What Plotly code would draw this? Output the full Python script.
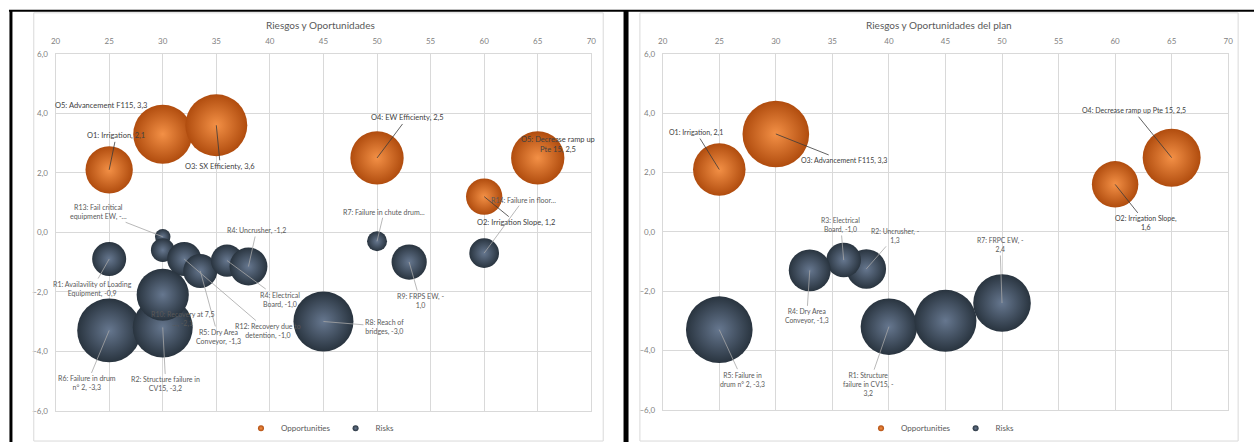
import plotly.graph_objects as go

W, H = 1259, 447

# ---------------- data: left chart "Riesgos y Oportunidades" ----------------
L_opp_labels = ["O5: Advancement F115, 3,3", "O1: Irrigation, 2,1", "O3: SX Efficienty, 3,6",
                "O4: EW Efficienty, 2,5", "O5: Decrease ramp up<br>Pte 15, 2,5", "O2: Irrigation Slope, 1,2"]
L_opp_x = [30, 25, 35, 50, 65, 60]
L_opp_y = [3.3, 2.1, 3.6, 2.5, 2.5, 1.2]
L_opp_size = [87, 56, 96, 71, 71, 33]

L_risk_labels = ["R1: Availavility of Loading<br>Equipment, -0,9", "R13: Fail critical<br>equipment EW, -...", "",
                 "R12: Recovery due to<br>detention, -1,0", "R5: Dry Area<br>Conveyor, -1,3",
                 "R4: Electrical<br>Board, -1,0", "R4: Uncrusher, -1,2", "R6: Failure in drum<br>n° 2, -3,3",
                 "R2: Structure failure in<br>CV15, -3,2", "R10: Recovery at 7,5<br>..., -2,1",
                 "R8: Reach of<br>bridges, -3,0", "R7: Failure in chute drum...", "R9: FRPS EW, -<br>1,0",
                 "R14: Failure in floor..."]
L_risk_x = [25, 30, 30, 32, 33.5, 36, 38, 25, 30, 30, 45, 50, 53, 60]
L_risk_y = [-0.9, -0.15, -0.6, -0.9, -1.3, -0.95, -1.15, -3.3, -3.2, -2.1, -3.0, -0.3, -1.0, -0.7]
L_risk_size = [29, 6, 14, 29, 29, 26, 36, 102, 90, 68, 90, 10, 31, 22]

# ---------------- data: right chart "Riesgos y Oportunidades del plan" ----------------
R_opp_labels = ["O1: Irrigation, 2,1", "O3: Advancement F115, 3,3",
                "O4: Decrease ramp up Pte 15, 2,5", "O2: Irrigation Slope,<br>1,6"]
R_opp_x = [25, 30, 65, 60]
R_opp_y = [2.1, 3.3, 2.5, 1.6]
R_opp_size = [69, 111, 84, 54]

R_risk_labels = ["R1: Structure<br>failure in CV15, -<br>3,2", "R2: Uncrusher, -<br>1,3",
                 "R3: Electrical<br>Board, -1,0", "R4: Dry Area<br>Conveyor, -1,3",
                 "R5: Failure in<br>drum n° 2, -3,3", "", "R7: FRPC EW, -<br>2,4"]
R_risk_x = [40, 38, 36, 33, 25, 45, 50]
R_risk_y = [-3.2, -1.25, -0.95, -1.3, -3.3, -3.0, -2.4]
R_risk_size = [80, 39, 30, 44, 111, 96, 83]

X_RANGE = [20, 70]
Y_RANGE = [-6, 6]

# ---------------- label placement (pixel offsets of label centre from bubble, leader flag) ----------------
L_opp_place = [(-62, -29, False), (7, -34, True), (4, 41, True), (30, -40, True), (20, -13, False), (32, 26, True)]
L_risk_place = [(-17, 30, True), (-64, -25, True), (0, 0, False), (84, 72, True), (18, 66, True),
                (53, 39, True), (8, -36, True), (-22, 53, True), (3, 57, True), (20, 24, False),
                (61, 5, True), (7, -29, True), (11, 39, True), (39, -53, True)]
R_opp_place = [(-23, -37, True), (68, 27, True), (-38, -47, True), (31, 39, True)]
R_risk_place = [(-20, 58, True), (29, -33, True), (-3, -35, True), (-3, 46, True), (23, 50, True),
                (0, 0, False), (-2, -58, True)]

ORANGE_EDGE, ORANGE_HI = "#B04C0E", "#F39046"
SLATE_EDGE, SLATE_HI = "#29343F", "#66778F"
FONT = "Lato"


def fx(px):
    return px / W


def fy(py):
    return 1 - py / H


fig = go.Figure()


def bubbles(x, y, s, edge, hi, xa, ya):
    fig.add_trace(go.Scatter(
        x=x, y=y, mode="markers", xaxis=xa, yaxis=ya, showlegend=False, cliponaxis=False,
        hoverinfo="skip",
        marker=dict(size=s, sizemode="area", sizeref=0.05, color=edge, opacity=1,
                    gradient=dict(type="radial", color=hi), line=dict(width=0))))


bubbles(L_opp_x, L_opp_y, L_opp_size, ORANGE_EDGE, ORANGE_HI, "x", "y")
bubbles(L_risk_x, L_risk_y, L_risk_size, SLATE_EDGE, SLATE_HI, "x", "y")
bubbles(R_opp_x, R_opp_y, R_opp_size, ORANGE_EDGE, ORANGE_HI, "x2", "y2")
bubbles(R_risk_x, R_risk_y, R_risk_size, SLATE_EDGE, SLATE_HI, "x2", "y2")

# legend-only traces (small dots like the original legend)
for xa, ya, lg in (("x", "y", "legend"), ("x2", "y2", "legend2")):
    fig.add_trace(go.Scatter(x=[None], y=[None], mode="markers", xaxis=xa, yaxis=ya, legend=lg,
                             name="Opportunities",
                             marker=dict(size=6, color=ORANGE_EDGE, opacity=1,
                                         gradient=dict(type="radial", color=ORANGE_HI))))
    fig.add_trace(go.Scatter(x=[None], y=[None], mode="markers", xaxis=xa, yaxis=ya, legend=lg,
                             name="Risks",
                             marker=dict(size=6, color=SLATE_EDGE, opacity=1,
                                         gradient=dict(type="radial", color=SLATE_HI))))

annotations = []


def labels(xs, ys, texts, places, xref, yref, color, linecolor, size):
    for x, y, t, (ax, ay, lead) in zip(xs, ys, texts, places):
        if not t:
            continue
        a = dict(x=x, y=y, xref=xref, yref=yref, text=t, align="center",
                 font=dict(family=FONT, size=size, color=color))
        if lead:
            a.update(showarrow=True, ax=ax, ay=ay, arrowhead=0, arrowwidth=0.8,
                     arrowcolor=linecolor, standoff=0, startstandoff=0)
        else:
            a.update(showarrow=False, xshift=ax, yshift=-ay)
        annotations.append(a)


labels(L_opp_x, L_opp_y, L_opp_labels, L_opp_place, "x", "y", "#404040", "#3a3a3a", 7.5)
labels(L_risk_x, L_risk_y, L_risk_labels, L_risk_place, "x", "y", "#595959", "#A6A6A6", 7)
labels(R_opp_x, R_opp_y, R_opp_labels, R_opp_place, "x2", "y2", "#404040", "#3a3a3a", 7)
labels(R_risk_x, R_risk_y, R_risk_labels, R_risk_place, "x2", "y2", "#595959", "#A6A6A6", 6.8)

# chart titles
annotations.append(dict(x=fx(318), y=fy(20), xref="paper", yref="paper", text="Riesgos y Oportunidades",
                        xanchor="center", yanchor="middle",
                        showarrow=False, font=dict(family=FONT, size=10, color="#595959")))
annotations.append(dict(x=fx(941), y=fy(20), xref="paper", yref="paper",
                        text="Riesgos y Oportunidades del plan", xanchor="center", yanchor="middle",
                        showarrow=False, font=dict(family=FONT, size=10, color="#595959")))

tickfont = dict(family=FONT, size=8, color="#7F7F7F")
xcommon = dict(range=X_RANGE, dtick=5, tick0=20, side="top", showgrid=True, gridcolor="#D9D9D9",
               zeroline=False, showline=True, linecolor="#D9D9D9", mirror=True, ticks="outside",
               ticklen=6, tickcolor="rgba(0,0,0,0)", tickfont=tickfont, fixedrange=True)
ycommon = dict(range=Y_RANGE, dtick=2, tick0=-6, tickformat=".1f", showgrid=True, gridcolor="#D9D9D9",
               zeroline=False, showline=True, linecolor="#D9D9D9", mirror=True, ticks="outside",
               ticklen=5, tickcolor="rgba(0,0,0,0)", tickfont=tickfont, fixedrange=True)

shapes = [
    # black table frame
    dict(type="line", xref="paper", yref="paper", x0=fx(4), x1=1, y0=fy(6), y1=fy(6),
         line=dict(color="black", width=2)),
    dict(type="line", xref="paper", yref="paper", x0=fx(6), x1=fx(6), y0=fy(5), y1=0,
         line=dict(color="black", width=3)),
    dict(type="line", xref="paper", yref="paper", x0=fx(626), x1=fx(626), y0=fy(5), y1=0,
         line=dict(color="black", width=5)),
    # chart-area borders
    dict(type="rect", xref="paper", yref="paper", x0=fx(29), x1=fx(603), y0=fy(446), y1=fy(8),
         line=dict(color="#D9D9D9", width=1)),
    dict(type="rect", xref="paper", yref="paper", x0=fx(640), x1=fx(1243), y0=fy(446), y1=fy(8),
         line=dict(color="#D9D9D9", width=1)),
]

legend_common = dict(orientation="h", xanchor="center", yanchor="middle", bgcolor="rgba(0,0,0,0)",
                     font=dict(family=FONT, size=8, color="#595959"), itemwidth=30, tracegroupgap=0)

fig.update_layout(
    width=W, height=H, margin=dict(l=0, r=0, t=0, b=0), autosize=False,
    paper_bgcolor="white", plot_bgcolor="white", separators=",.",
    xaxis=dict(domain=[fx(51), fx(591)], anchor="y", **xcommon),
    yaxis=dict(domain=[fy(415), fy(50)], anchor="x", **ycommon),
    xaxis2=dict(domain=[fx(663), fx(1233)], anchor="y2", **xcommon),
    yaxis2=dict(domain=[fy(414), fy(50)], anchor="x2", **ycommon),
    legend=dict(x=fx(318), y=fy(433), **legend_common),
    legend2=dict(x=fx(943), y=fy(433), **legend_common),
    annotations=annotations, shapes=shapes, showlegend=True, hovermode=False,
)

fig.write_html("out.html")
